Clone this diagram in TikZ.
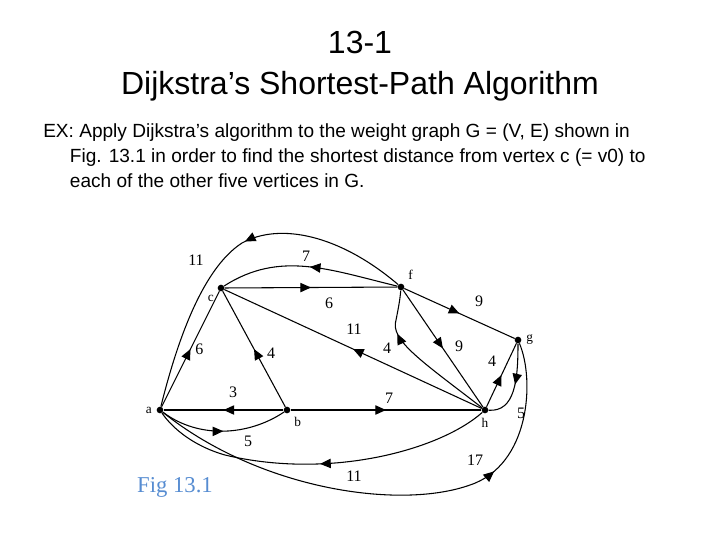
\documentclass[tikz,border=0pt]{standalone}
\usepackage{fontspec}
\setmainfont{Liberation Serif}
\newfontfamily\arialfont{Liberation Sans}
\usetikzlibrary{decorations.markings, arrows.meta}
\tikzset{
  vertex/.style = {circle, fill = black, inner sep = 0pt, minimum size = 5pt},
  wlabel/.style = {font = \fontsize{12}{14}\selectfont},
  edge/.style = {thick, postaction = {decorate}, decoration = {markings, mark = at position #1 with {\arrow{Triangle[length = 8pt, width = 7pt]}}}},
  edge/.default = 0.5
}
\begin{document}
\begin{tikzpicture}[x = 0.75pt, y = -0.75pt]
		\useasboundingbox (0, 0) rectangle (720, 540);
		\node[font = \arialfont\fontsize{24}{31}\selectfont, align = center] (title) at (360, 66) {13-1\\Dijkstra’s Shortest-Path Algorithm};
		\node[font = \arialfont\fontsize{14.3}{18.75}\selectfont, align = left, anchor = north west, inner sep = 0pt] (text) at (43, 123)
			{EX: Apply Dijkstra’s algorithm to the weight graph G = (V, E) shown in\\
			\hspace*{20pt}Fig. 13.1 in order to find the shortest distance from vertex c (= v0) to\\
			\hspace*{20pt}each of the other five vertices in G.};
		% vertices
		\node[vertex, label = left:{a}] (a) at (160, 410) {};
		\node[vertex, label = below right:{b}] (b) at (287, 410) {};
		\node[vertex, label = below left:{c}] (c) at (221, 288) {};
		\node[vertex, label = above right:{f}] (f) at (401, 287) {};
		\node[vertex, label = right:{g}] (g) at (518, 340) {};
		\node[vertex, label = below:{h}] (h) at (485, 410) {};
		% edges
		\draw[edge] (a) -- (c) node[wlabel, pos = 0.5, right] {6};
		\draw[edge = 0.47] (f) .. controls (340, 235) and (280, 222) .. (242, 243) .. controls (200, 270) and (175, 350) .. (a);
		\draw[edge] (f) .. controls (330, 270) and (280, 250) .. (c);
		\draw[edge] (c) -- (f);
		\draw[edge] (h) -- (c);
		\draw[edge] (b) -- (c);
		\draw[edge] (b) -- (a);
		\draw[edge] (a) .. controls (200, 440) and (250, 435) .. (b);
		\draw[edge] (b) -- (h);
		\draw[edge] (h) .. controls (440, 450) and (330, 480) .. (225, 455) .. controls (190, 445) and (170, 425) .. (a);
		\draw[edge = 0.72] (a) .. controls (260, 490) and (400, 510) .. (470, 485) .. controls (530, 465) and (535, 380) .. (g);
		\draw[edge] (f) -- (g);
		\draw[edge = 0.72] (h) .. controls (420, 360) and (390, 340) .. (396, 320) .. controls (398, 310) and (400, 300) .. (f);
		\draw[edge] (f) -- (h);
		\draw[edge] (h) -- (g);
		\draw[edge] (g) .. controls (518, 380) and (515, 412) .. (h);
		% weights
		\node[wlabel] (w11a) at (196, 260) {11};
		\node[wlabel] (w7a) at (306, 256) {7};
		\node[wlabel] (w6a) at (329, 303) {6};
		\node[wlabel] (w4a) at (271, 353) {4};
		\node[wlabel] (w11b) at (354, 329) {11};
		\node[wlabel] (w4b) at (387, 348) {4};
		\node[wlabel] (w9a) at (479, 301) {9};
		\node[wlabel] (w9b) at (459, 346) {9};
		\node[wlabel] (w4c) at (492, 361) {4};
		\node[wlabel] (w5a) at (521, 413) {5};
		\node[wlabel] (w3) at (233, 392) {3};
		\node[wlabel] (w7b) at (389, 398) {7};
		\node[wlabel] (w5b) at (248, 441) {5};
		\node[wlabel] (w11c) at (354, 476) {11};
		\node[wlabel] (w17) at (475, 460) {17};
		\node[font = \fontsize{17}{19}\selectfont, text = cyan!50!blue!70] (fig) at (175, 487) {Fig 13.1};
	\end{tikzpicture}
\end{document}
